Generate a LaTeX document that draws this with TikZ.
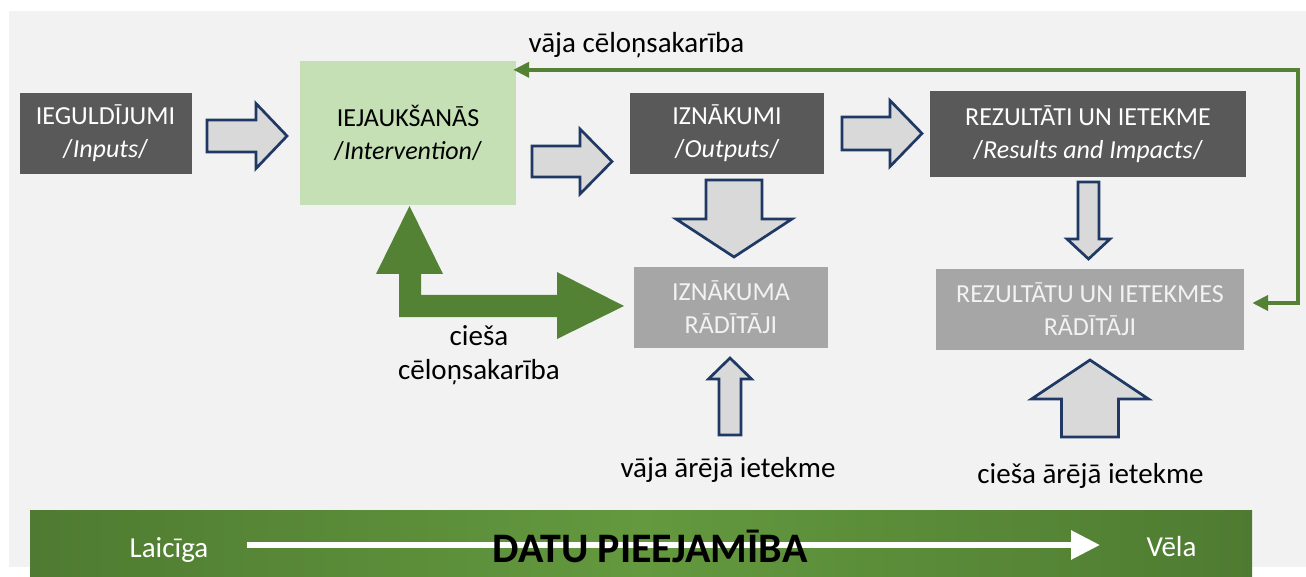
\documentclass[tikz,border=0pt]{standalone}
\usepackage{fontspec}
\setmainfont{Carlito}
\usetikzlibrary{calc,arrows.meta}
\definecolor{bgc}{HTML}{F2F2F2}
\definecolor{darkbox}{HTML}{595959}
\definecolor{lightgreen}{HTML}{C5E0B4}
\definecolor{dgreen}{HTML}{548235}
\definecolor{indbox}{HTML}{A6A6A6}
\definecolor{arrfill}{HTML}{D9D9D9}
\definecolor{navy}{HTML}{1F3864}
\definecolor{bardark}{HTML}{4E7B31}
\definecolor{barlight}{HTML}{64993F}
\newcommand{\boxfont}{\fontsize{26}{33}\selectfont}
\newcommand{\labfont}{\fontsize{29}{34}\selectfont}
\newcommand{\titlefont}{\fontsize{42}{46}\selectfont\bfseries}
\newcommand{\blockarr}[5]{%
  \coordinate (bah) at ($(#2)!#5pt!(#1)$);
  \draw[blockarrow] ($(#1)!#3pt!90:(#2)$) -- ($(bah)!#3pt!90:(#2)$) -- ($(bah)!#4pt!90:(#2)$) -- (#2)
    -- ($(bah)!#4pt!-90:(#2)$) -- ($(bah)!#3pt!-90:(#2)$) -- ($(#1)!#3pt!-90:(#2)$) -- cycle;}
\tikzset{
  blockarrow/.style={fill=arrfill, draw=navy, line width=2.7pt, line join=miter},
  darkbx/.style={fill=darkbox, text=white, inner sep=0pt, align=center, font=\boxfont},
  greenbx/.style={fill=lightgreen, text=black, inner sep=0pt, align=center, font=\boxfont},
  indbx/.style={fill=indbox, text=bgc, inner sep=0pt, align=center, font=\boxfont},
  lab/.style={font=\labfont, text=black, inner sep=0pt},
  barlab/.style={font=\labfont, text=white, inner sep=0pt},
  fbline/.style={draw=dgreen, line width=4pt, {Triangle[length=16pt,width=15pt]}-{Triangle[length=16pt,width=15pt]}}
}
\begin{document}
\begin{tikzpicture}[x=1pt,y=-1pt]
\useasboundingbox (0,0) rectangle (1306,577);
\fill[white] (0,0) rectangle (1306,577);
\fill[bgc] (9,11) rectangle (1306,567);

% boxes
\node[darkbx, minimum width=172pt, minimum height=81pt] (inputs) at (105.5,133.5) {IEGULDĪJUMI\\/\textit{Inputs}/};
\node[greenbx, minimum width=216pt, minimum height=144pt] (interv) at (408,133) {IEJAUKŠANĀS\\/\textit{Intervention}/};
\node[darkbx, minimum width=194pt, minimum height=81pt] (outputs) at (727,133.5) {IZNĀKUMI\\/\textit{Outputs}/};
\node[darkbx, minimum width=316pt, minimum height=86pt] (results) at (1088,134) {REZULTĀTI UN IETEKME\\/\textit{Results and Impacts}/};
\node[indbx, minimum width=194pt, minimum height=81pt] (orad) at (731,307.5) {IZNĀKUMA\\RĀDĪTĀJI};
\node[indbx, minimum width=308pt, minimum height=81pt] (rrad) at (1090,309.5) {REZULTĀTU UN IETEKMES\\RĀDĪTĀJI};

% block arrows
\coordinate (a1s) at (207,136);   \coordinate (a1e) at (287,136);
\coordinate (a2s) at (532,161.5); \coordinate (a2e) at (612,161.5);
\coordinate (a3s) at (842,133.5); \coordinate (a3e) at (922,133.5);
\coordinate (a4s) at (734,180);   \coordinate (a4e) at (734,257);
\coordinate (a5s) at (1088.5,182);\coordinate (a5e) at (1088.5,259);
\coordinate (a6s) at (730,435);   \coordinate (a6e) at (730,358);
\coordinate (a7s) at (1090,437);  \coordinate (a7e) at (1090,360);
\blockarr{a1s}{a1e}{16}{32.5}{31}
\blockarr{a2s}{a2e}{15.5}{32.5}{32}
\blockarr{a3s}{a3e}{16.5}{33}{32}
\blockarr{a4s}{a4e}{28}{58}{38}
\blockarr{a5s}{a5e}{10.5}{21.5}{20}
\blockarr{a6s}{a6e}{11}{21.5}{21}
\blockarr{a7s}{a7e}{28.5}{58.5}{39}

% green L-shaped strong causality arrow
\fill[dgreen] (399,317) -- (399,274) -- (376,274) -- (409.5,206) -- (443,274) -- (421,274)
  -- (421,295) -- (557,295) -- (557,272) -- (624,306) -- (557,339) -- (557,317) -- cycle;

% weak causality feedback line
\coordinate (fbL) at ($(interv.north east)+(-3,9)$);
\coordinate (fbR) at ($(rrad.east)+(8,-6.5)$);
\coordinate (fbx) at (1298,0);
\draw[fbline] (fbL) -- (fbL -| fbx) -- (fbR -| fbx) -- (fbR);

% labels
\node[lab, anchor=base] (weakcause) at (636.5,53) {vāja cēloņsakarība};
\node[lab, align=center] (strongcause) at (479,355) {cieša\\cēloņsakarība};
\node[lab, anchor=base] (weakext) at (728,477) {vāja ārējā ietekme};
\node[lab, anchor=base] (strongext) at (1090.5,483) {cieša ārējā ietekme};

% data availability bar
\shade[left color=bardark, right color=bardark, middle color=barlight] (30,510) rectangle (1252,577);
\coordinate (tl) at (247,545);
\coordinate (tr) at (1100,545);
\draw[white, line width=6pt, -{Triangle[length=29pt,width=28pt]}] (tl) -- (tr);
\node[barlab, anchor=base] (early) at (169,557) {Laicīga};
\node[barlab, anchor=base] (late) at (1171.5,556) {Vēla};
\node[font=\titlefont, text=black, inner sep=0pt, anchor=base] (title) at (650,562) {DATU PIEEJAMĪBA};
\end{tikzpicture}
\end{document}
